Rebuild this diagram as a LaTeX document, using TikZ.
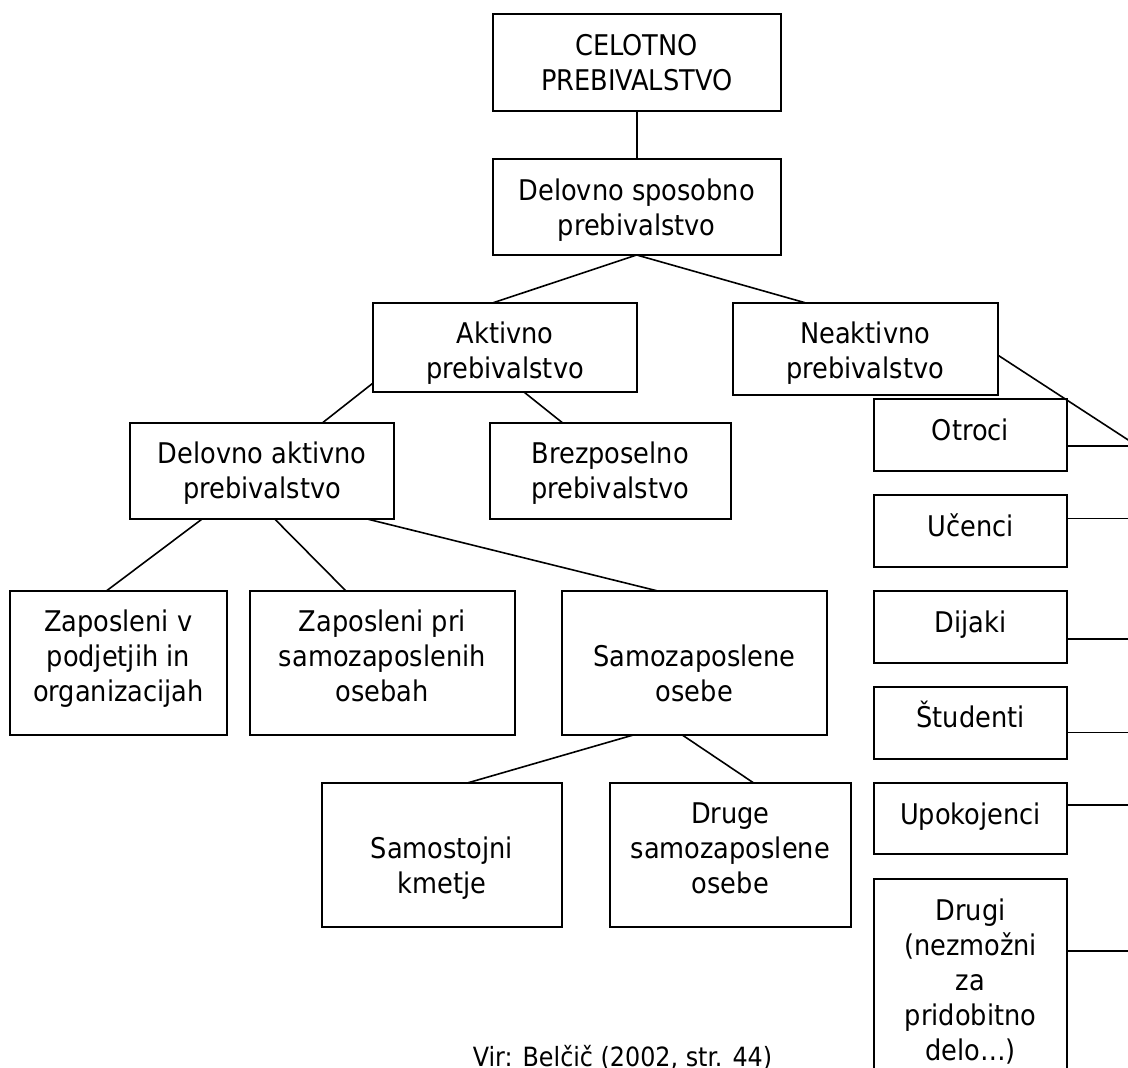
\documentclass[tikz,border=0pt]{standalone}
\usepackage{fontspec}
\setmainfont{DejaVu Sans Condensed}
\usetikzlibrary{calc}
\newcommand\lnstrut{\rule[-8pt]{0pt}{35pt}}
\tikzset{
  box/.style={draw=black, line width=1.8pt, inner sep=0pt, outer sep=0pt, anchor=north west},
  txt/.style={inner sep=0pt, outer sep=0pt, align=center, anchor=north, font=\fontsize{28.5}{35}\selectfont},
  conn/.style={draw=black, line width=1.6pt},
}
\begin{document}
\begin{tikzpicture}[x=1pt,y=-1pt]
\useasboundingbox (0,0) rectangle (1128,1068);
\fill[white] (0,0) rectangle (1128,1068);

% boxes
\node[box, minimum width=288pt, minimum height=96.4pt] (cel) at (492.7,14.3) {};
\node[box, minimum width=288pt, minimum height=96pt] (dso) at (492.7,159) {};
\node[box, minimum width=264.6pt, minimum height=89.6pt] (akt) at (372.7,302.7) {};
\node[box, minimum width=265pt, minimum height=92.3pt] (nea) at (732.7,302.7) {};
\node[box, minimum width=264.3pt, minimum height=96.6pt] (dak) at (130,422.7) {};
\node[box, minimum width=240.7pt, minimum height=96.6pt] (brz) at (490,422.7) {};
\node[box, minimum width=216.7pt, minimum height=144.3pt] (zv) at (10,590.7) {};
\node[box, minimum width=264.7pt, minimum height=144.3pt] (zp) at (250,590.7) {};
\node[box, minimum width=264.7pt, minimum height=144.3pt] (sz) at (562,590.7) {};
\node[box, minimum width=240.6pt, minimum height=144pt] (sk) at (321.7,782.7) {};
\node[box, minimum width=240.7pt, minimum height=144pt] (dr) at (610,782.7) {};
\node[box, minimum width=192.4pt, minimum height=71.7pt] (ot) at (874.3,399) {};
\node[box, minimum width=192.4pt, minimum height=71.7pt] (uc) at (874.3,495) {};
\node[box, minimum width=192.4pt, minimum height=71.7pt] (di) at (874.3,591) {};
\node[box, minimum width=192.4pt, minimum height=72.3pt] (st) at (874.3,686.7) {};
\node[box, minimum width=192.4pt, minimum height=71pt] (up) at (874.3,783.3) {};
\node[box, minimum width=192.4pt, minimum height=201pt] (dg) at (874.3,879) {};

% texts
\node[txt] (celT) at ([yshift=-14pt]cel.north) {\lnstrut CELOTNO\\\lnstrut PREBIVALSTVO};
\node[txt] (dsoT) at ([yshift=-14pt]dso.north) {\lnstrut Delovno sposobno\\\lnstrut prebivalstvo};
\node[txt] (aktT) at ([yshift=-14pt]akt.north) {\lnstrut Aktivno\\\lnstrut prebivalstvo};
\node[txt] (neaT) at ([yshift=-14pt]nea.north) {\lnstrut Neaktivno\\\lnstrut prebivalstvo};
\node[txt] (dakT) at ([yshift=-14pt]dak.north) {\lnstrut Delovno aktivno\\\lnstrut prebivalstvo};
\node[txt] (brzT) at ([yshift=-14pt]brz.north) {\lnstrut Brezposelno\\\lnstrut prebivalstvo};
\node[txt] (zvT) at ([yshift=-14pt]zv.north) {\lnstrut Zaposleni v\\\lnstrut podjetjih in\\\lnstrut organizacijah};
\node[txt] (zpT) at ([yshift=-14pt]zp.north) {\lnstrut Zaposleni pri\\\lnstrut samozaposlenih\\\lnstrut osebah};
\node[txt] (szT) at ([yshift=-49pt]sz.north) {\lnstrut Samozaposlene\\\lnstrut osebe};
\node[txt] (skT) at ([yshift=-49pt]sk.north) {\lnstrut Samostojni\\\lnstrut kmetje};
\node[txt] (drT) at ([yshift=-14pt]dr.north) {\lnstrut Druge\\\lnstrut samozaposlene\\\lnstrut osebe};
\node[txt] (otT) at ([yshift=-14pt]ot.north) {\lnstrut Otroci};
\node[txt] (ucT) at ([yshift=-14pt]uc.north) {\lnstrut Učenci};
\node[txt] (diT) at ([yshift=-14pt]di.north) {\lnstrut Dijaki};
\node[txt] (stT) at ([yshift=-14pt]st.north) {\lnstrut Študenti};
\node[txt] (upT) at ([yshift=-14pt]up.north) {\lnstrut Upokojenci};
\node[txt] (dgT) at ([yshift=-14pt]dg.north) {\lnstrut Drugi\\\lnstrut (nezmožni\\\lnstrut za\\\lnstrut pridobitno\\\lnstrut delo…)};

\node[inner sep=0pt, anchor=base, font=\fontsize{26.5}{32}\selectfont] (src) at (622.5,1066) {Vir: Belčič (2002, str. 44)};

% free ends on the right (off the page)
\coordinate (eNea) at (1137,445.7);
\coordinate (eOt) at (1137,445.7);
\coordinate (eUc) at (1137,518.3);
\coordinate (eDi) at (1137,639);
\coordinate (eSt) at (1137,732.3);
\coordinate (eUp) at (1137,805);
\coordinate (eDg) at (1137,950.7);

% connectors
\draw[conn] (cel.south) -- (dso.north);
\draw[conn] (dso.south) -- ([xshift=-11.7pt]akt.north);
\draw[conn] (dso.south) -- ([xshift=-60.2pt]nea.north);
\draw[conn] ([yshift=-35.8pt]akt.west) -- ([xshift=60.5pt]dak.north);
\draw[conn] ([xshift=19.3pt]akt.south) -- ([xshift=-48pt]brz.north);
\draw[conn] ([yshift=-6.15pt]nea.east) -- (eNea);
\draw[conn] ([xshift=-60.45pt]dak.south) -- ([xshift=-11.65pt]zv.north);
\draw[conn] ([xshift=12.85pt]dak.south) -- ([xshift=-36.65pt]zp.north);
\draw[conn] ([xshift=106.15pt]dak.south) -- ([xshift=-37.65pt]sz.north);
\draw[conn] ([xshift=-61.05pt]sz.south) -- ([xshift=26.3pt]sk.north);
\draw[conn] ([xshift=-12.05pt]sz.south) -- ([xshift=22.95pt]dr.north);
\draw[conn] (ot.east |- eOt) -- (eOt);
\draw[conn] (uc.east |- eUc) -- (eUc);
\draw[conn] (di.east |- eDi) -- (eDi);
\draw[conn] (st.east |- eSt) -- (eSt);
\draw[conn] (up.east |- eUp) -- (eUp);
\draw[conn] (dg.east |- eDg) -- (eDg);
\end{tikzpicture}
\end{document}
